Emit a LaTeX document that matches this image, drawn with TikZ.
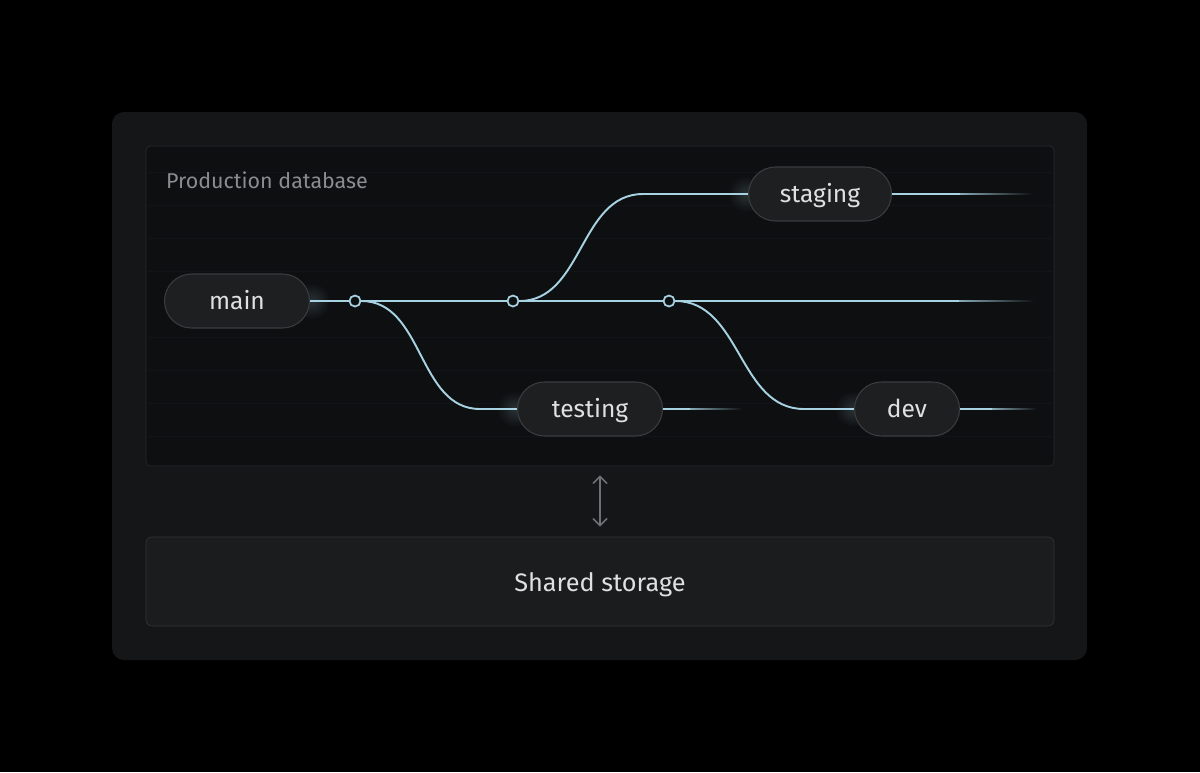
\documentclass[tikz,border=0pt]{standalone}
\usepackage{fontspec}
\setmainfont{Fira Sans}
\usetikzlibrary{arrows.meta}

\definecolor{panelcol}{HTML}{151618}
\definecolor{dbfill}{HTML}{0E0F11}
\definecolor{dbline}{HTML}{27292C}
\definecolor{gridcol}{HTML}{131417}
\definecolor{wirecol}{HTML}{A6D2E2}
\definecolor{pillfill}{HTML}{1E1F21}
\definecolor{pillline}{HTML}{3A3C3F}
\definecolor{pilltext}{HTML}{E0E0E0}
\definecolor{labelcol}{HTML}{8A8C90}
\definecolor{storefill}{HTML}{1A1C1E}
\definecolor{storeline}{HTML}{313336}
\definecolor{arrowcol}{HTML}{6E7073}

\tikzset{
    branch/.style={draw=pillline, fill=pillfill, text=pilltext, rectangle,
        rounded corners=0.54cm, minimum height=1.08cm, line width=0.6pt,
        text height=10pt, text depth=0pt,
        font=\fontsize{14}{16}\selectfont},
    wire/.style={draw=wirecol, line width=1.1pt},
    commit/.style={circle, draw=wirecol, fill=dbfill, line width=1pt,
        minimum size=0.22cm, inner sep=0pt},
    tail/.style={left color=wirecol!80!dbfill, right color=dbfill},
    glow/.style={inner color=wirecol!18!dbfill, outer color=dbfill},
}

\begin{document}
\begin{tikzpicture}[x=0.02cm, y=-0.02cm]
    \useasboundingbox[fill=black] (0,0) rectangle (1200,772);
    \fill[panelcol, rounded corners=0.24cm] (112,112) rectangle (1087,660);

    \node[draw=dbline, fill=dbfill, rounded corners=0.08cm, inner sep=0pt,
        minimum width=18.16cm, minimum height=6.4cm] (proddb) at (600,306) {};
    \foreach \gy in {172,205,238,271,337,370,403,436}
        \draw[gridcol, line width=0.5pt] (147,\gy) -- (1053,\gy);
    \node[anchor=west, text=labelcol, font=\fontsize{12.2}{14}\selectfont] (dblabel) at (160,180) {Production database};

    \shade[glow] (312,301) circle (0.36cm);
    \shade[glow] (746,194) circle (0.36cm);
    \shade[glow] (515,409) circle (0.36cm);
    \shade[glow] (853,409) circle (0.36cm);

    \node[branch, minimum width=2.9cm] (main) at (237,301) {main};
    \node[branch, minimum width=2.86cm] (staging) at (820,194) {staging};
    \node[branch, minimum width=2.9cm] (testing) at (590,409) {testing};
    \node[branch, minimum width=2.1cm] (dev) at (907,409) {dev};

    \node[commit] (c1) at (355,301) {};
    \node[commit] (c2) at (513,301) {};
    \node[commit] (c3) at (669,301) {};

    \draw[wire] (main) -- (c1);
    \draw[wire] (c1) -- (c2);
    \draw[wire] (c2) -- (c3);
    \draw[wire] (c3) -- ++(290,0) coordinate (maintail);
    \shade[tail] (maintail) ++(0,-0.9) rectangle ++(75,1.8);

    \draw[wire] (c1) to[out=0, in=180] ++(125,108) -- (testing);
    \draw[wire] (c2) to[out=0, in=180] ++(130,-107) -- (staging);
    \draw[wire] (c3) to[out=0, in=180] ++(135,108) -- (dev);

    \draw[wire] (staging) -- ++(140,0) coordinate (stagingtail);
    \shade[tail] (stagingtail) ++(0,-0.9) rectangle ++(72,1.8);
    \draw[wire] (testing) -- ++(100,0) coordinate (testingtail);
    \shade[tail] (testingtail) ++(0,-0.9) rectangle ++(52,1.8);
    \draw[wire] (dev) -- ++(85,0) coordinate (devtail);
    \shade[tail] (devtail) ++(0,-0.9) rectangle ++(45,1.8);

    \node[draw=storeline, fill=storefill, rounded corners=0.12cm, text=pilltext,
        minimum width=18.16cm, minimum height=1.78cm, text height=11.6pt, text depth=0pt,
        font=\fontsize{14.4}{17}\selectfont] (storage) at (600,581.5) {Shared storage};

    \draw[{Straight Barb[length=4pt]}-{Straight Barb[length=4pt]}, arrowcol, line width=0.9pt,
        shorten <=0.18cm, shorten >=0.2cm] (proddb) -- (storage);
\end{tikzpicture}
\end{document}
